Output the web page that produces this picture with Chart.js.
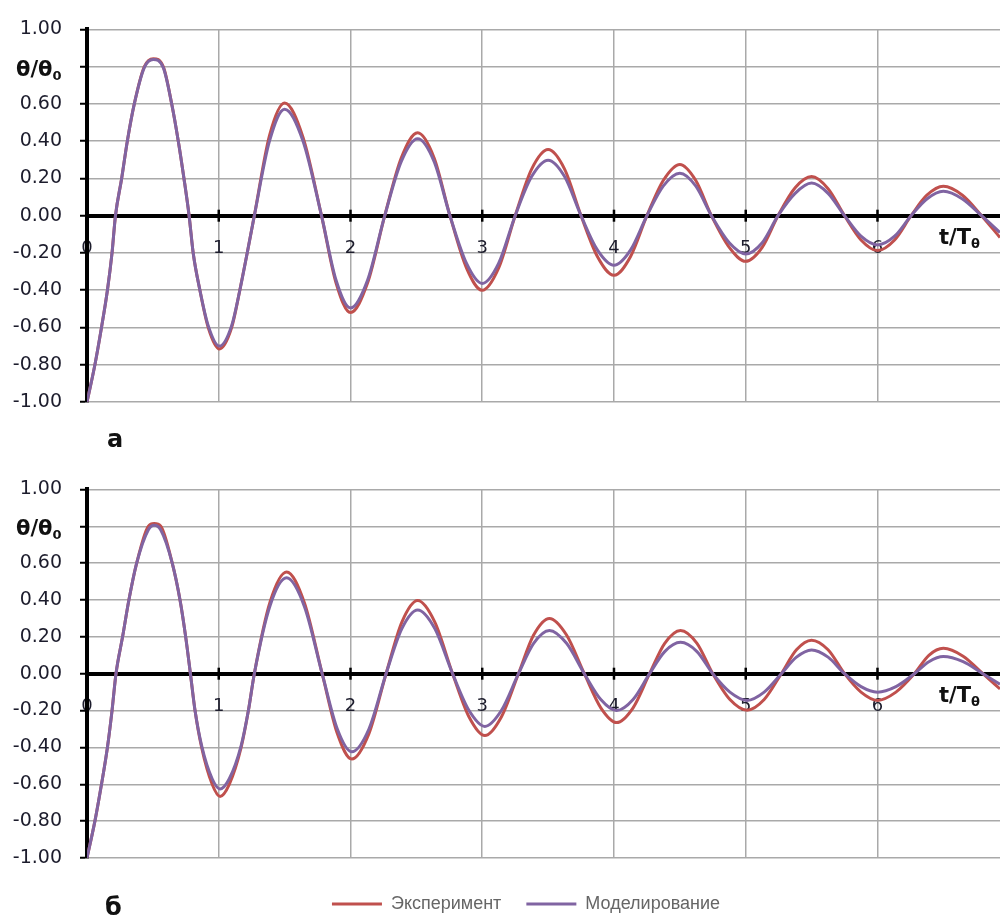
<!DOCTYPE html>
<html lang="ru">
<head>
<meta charset="utf-8">
<title>θ/θ0 — Эксперимент и Моделирование</title>
<script src="https://cdn.jsdelivr.net/npm/chart.js@4.4.1/dist/chart.umd.min.js"></script>
<style>
  html, body { margin: 0; padding: 0; background: #fff; width: 1000px; height: 917px; overflow: hidden; }
  .box { position: absolute; left: 0; width: 1000px; }
  #boxA { top: 0; height: 460px; }
  #boxB { top: 460px; height: 463px; }
</style>
</head>
<body>
<div class="box" id="boxA"><canvas id="chartA"></canvas></div>
<div class="box" id="boxB"><canvas id="chartB"></canvas></div>
<script>
const seriesNames = ["Эксперимент", "Моделирование"];

// chart "а": t/Tθ and θ/θ0
const tA = [0, 0.06, 0.11, 0.155, 0.19, 0.216, 0.263, 0.306, 0.359, 0.435,
  0.503, 0.579, 0.643, 0.693, 0.736, 0.775, 0.806, 0.857, 0.92, 1.005,
  1.098, 1.16, 1.216, 1.27, 1.385, 1.50, 1.64, 1.78, 1.89, 2.00,
  2.13, 2.26, 2.385, 2.51, 2.635, 2.755, 2.88, 3.00, 3.125, 3.25,
  3.375, 3.50, 3.625, 3.75, 3.875, 4.00, 4.125, 4.25, 4.375, 4.50,
  4.62, 4.74, 4.875, 5.00, 5.125, 5.245, 5.375, 5.50, 5.625, 5.75,
  5.875, 6.00, 6.13, 6.255, 6.375, 6.50, 6.645, 6.79, 6.93];
const expA = [-1.00, -0.80, -0.60, -0.40, -0.20, 0.00, 0.20, 0.40, 0.60, 0.80,
  0.843, 0.80, 0.60, 0.40, 0.20, 0.00, -0.20, -0.40, -0.60, -0.715,
  -0.60, -0.40, -0.20, 0.00, 0.43, 0.605, 0.42, 0.00, -0.36, -0.52,
  -0.36, 0.00, 0.31, 0.445, 0.31, 0.00, -0.28, -0.40, -0.28, 0.00,
  0.25, 0.355, 0.25, 0.00, -0.22, -0.32, -0.22, 0.00, 0.19, 0.275,
  0.19, 0.00, -0.17, -0.245, -0.17, 0.00, 0.15, 0.21, 0.145, 0.00,
  -0.13, -0.187, -0.13, 0.00, 0.11, 0.158, 0.11, 0.00, -0.117];
const modA = [-1.00, -0.80, -0.60, -0.40, -0.20, 0.00, 0.20, 0.40, 0.60, 0.795,
  0.838, 0.795, 0.60, 0.40, 0.20, 0.00, -0.20, -0.40, -0.59, -0.70,
  -0.59, -0.40, -0.20, 0.00, 0.40, 0.572, 0.40, 0.00, -0.345, -0.495,
  -0.345, 0.00, 0.29, 0.413, 0.29, 0.00, -0.255, -0.364, -0.255, 0.00,
  0.21, 0.298, 0.21, 0.00, -0.185, -0.266, -0.185, 0.00, 0.16, 0.228,
  0.16, 0.00, -0.145, -0.205, -0.145, 0.00, 0.12, 0.175, 0.12, 0.00,
  -0.11, -0.157, -0.11, 0.00, 0.09, 0.131, 0.09, 0.00, -0.09];

// chart "б"
const tB = [0, 0.06, 0.11, 0.155, 0.19, 0.22, 0.27, 0.318, 0.377, 0.465,
  0.51, 0.56, 0.647, 0.706, 0.749, 0.785, 0.82, 0.87, 0.95, 1.01,
  1.08, 1.17, 1.225, 1.27, 1.39, 1.515, 1.65, 1.785, 1.90, 2.01,
  2.14, 2.27, 2.39, 2.51, 2.64, 2.775, 2.90, 3.02, 3.145, 3.275,
  3.39, 3.51, 3.64, 3.775, 3.90, 4.02, 4.145, 4.27, 4.385, 4.505,
  4.63, 4.75, 4.88, 5.01, 5.14, 5.27, 5.385, 5.50, 5.625, 5.75,
  5.875, 6.00, 6.14, 6.28, 6.39, 6.50, 6.65, 6.80, 6.93];
const expB = [-1.00, -0.80, -0.60, -0.40, -0.20, 0.00, 0.20, 0.40, 0.60, 0.80,
  0.815, 0.80, 0.60, 0.40, 0.20, 0.00, -0.20, -0.40, -0.60, -0.666,
  -0.60, -0.40, -0.20, 0.00, 0.39, 0.552, 0.385, 0.00, -0.325, -0.463,
  -0.325, 0.00, 0.28, 0.397, 0.28, 0.00, -0.235, -0.336, -0.235, 0.00,
  0.21, 0.30, 0.21, 0.00, -0.185, -0.265, -0.185, 0.00, 0.165, 0.235,
  0.165, 0.00, -0.14, -0.198, -0.14, 0.00, 0.13, 0.182, 0.13, 0.00,
  -0.10, -0.145, -0.10, 0.00, 0.10, 0.138, 0.095, 0.00, -0.083];
const modB = [-1.00, -0.80, -0.60, -0.40, -0.20, 0.00, 0.20, 0.40, 0.60, 0.78,
  0.805, 0.78, 0.60, 0.40, 0.20, 0.00, -0.20, -0.39, -0.57, -0.625,
  -0.57, -0.39, -0.20, 0.00, 0.37, 0.52, 0.365, 0.00, -0.30, -0.424,
  -0.30, 0.00, 0.245, 0.346, 0.245, 0.00, -0.20, -0.286, -0.20, 0.00,
  0.165, 0.235, 0.165, 0.00, -0.14, -0.20, -0.14, 0.00, 0.12, 0.17,
  0.12, 0.00, -0.10, -0.145, -0.10, 0.00, 0.09, 0.129, 0.09, 0.00,
  -0.07, -0.10, -0.07, 0.00, 0.065, 0.093, 0.065, 0.00, -0.057];

const RED = "#C0504D";
const PURPLE = "#8064A2";
const GRID = "#a9a9a9";
const TXT = "#1c1c2c";

function pts(t, v) {
  return t.map((x, i) => ({ x: x, y: v[i] }));
}

// axis titles, panel letter, crossing ticks on the zero line
const decor = {
  id: "decor",
  afterLayout(chart, args, o) {
    // legend block sits a bit right of centre in the original
    if (o.legendShift && chart.legend) {
      chart.legend.left += o.legendShift;
      chart.legend.right += o.legendShift;
    }
  },
  beforeDatasetsDraw(chart) {
    const { ctx, scales: { x, y } } = chart;
    const y0 = y.getPixelForValue(0);
    ctx.save();
    ctx.strokeStyle = "#000";
    ctx.lineWidth = 2.5;
    x.ticks.forEach((tk) => {
      if (tk.value === 0) return;
      const px = x.getPixelForValue(tk.value);
      ctx.beginPath();
      ctx.moveTo(px, y0 - 6);
      ctx.lineTo(px, y0 + 6);
      ctx.stroke();
    });
    ctx.restore();
  },
  afterDraw(chart, args, o) {
    const { ctx, scales: { y } } = chart;
    ctx.save();
    ctx.fillStyle = "#111";
    ctx.textAlign = "left";
    ctx.textBaseline = "alphabetic";
    // θ/θ0
    const yb = y.getPixelForValue(0.8) + 9;
    ctx.font = 'bold 21px "DejaVu Sans"';
    ctx.fillText("θ/θ", 16, yb);
    let w = ctx.measureText("θ/θ").width;
    ctx.font = 'bold 13px "DejaVu Sans"';
    ctx.fillText("0", 16 + w, yb + 4);
    // t/Tθ
    const xb = y.getPixelForValue(0) + 28;
    ctx.font = 'bold 21px "DejaVu Sans"';
    ctx.fillText("t/T", 939, xb);
    w = ctx.measureText("t/T").width;
    ctx.font = 'bold 13px "DejaVu Sans"';
    ctx.fillText("θ", 939 + w, xb + 4);
    // panel letter
    ctx.font = 'bold 24px "DejaVu Sans"';
    ctx.fillText(o.letter, o.lx, o.ly);
    ctx.restore();
  }
};

function makeChart(id, t, exp, mod, cfg) {
  return new Chart(document.getElementById(id), {
    type: "line",
    data: {
      datasets: [
        { label: seriesNames[0], data: pts(t, exp), borderColor: RED, backgroundColor: RED, order: 1 },
        { label: seriesNames[1], data: pts(t, mod), borderColor: PURPLE, backgroundColor: PURPLE, order: 0 }
      ]
    },
    options: {
      responsive: true,
      maintainAspectRatio: false,
      animation: false,
      layout: { padding: cfg.padding },
      elements: {
        line: { borderWidth: 3, cubicInterpolationMode: "monotone", fill: false },
        point: { radius: 0 }
      },
      plugins: {
        tooltip: { enabled: false },
        legend: cfg.legend,
        decor: { letter: cfg.letter, lx: cfg.lx, ly: cfg.ly, legendShift: cfg.legendShift || 0 }
      },
      scales: {
        x: {
          type: "linear",
          min: 0,
          max: 6.93,
          position: { y: 0 },
          grid: { color: GRID, lineWidth: 1.5, drawTicks: false, z: -1 },
          border: { color: "#000", width: 4 },
          ticks: {
            stepSize: 1,
            includeBounds: false,
            autoSkip: false,
            maxRotation: 0,
            padding: 22,
            color: TXT,
            font: { family: "DejaVu Sans", size: 18 },
            callback: (v) => (Number.isInteger(v) ? String(v) : "")
          }
        },
        y: {
          min: -1,
          max: 1,
          position: "left",
          afterFit: (s) => { s.width = 87; },
          grid: { color: GRID, lineWidth: 1.5, tickColor: "#000", tickWidth: 2, tickLength: 7, z: -1 },
          border: { color: "#000", width: 4 },
          ticks: {
            stepSize: 0.2,
            padding: 18,
            color: TXT,
            font: { family: "DejaVu Sans", size: 19 },
            callback: (v) => (Math.abs(v - 0.8) < 1e-6 ? "" : v.toFixed(2))
          }
        }
      }
    },
    plugins: [decor]
  });
}

makeChart("chartA", tA, expA, modA, {
  padding: { top: 24, bottom: 58, left: 0, right: 0 },
  legend: { display: false },
  letter: "а", lx: 107, ly: 447
});

makeChart("chartB", tB, expB, modB, {
  padding: { top: 20, bottom: 0, left: 0, right: 0 },
  legendShift: 26,
  legend: {
    display: true,
    position: "bottom",
    title: { display: true, text: " ", font: { size: 10 }, padding: 0 },
    labels: {
      boxWidth: 50,
      boxHeight: 3,
      padding: 25,
      color: "#111",
      font: { family: "Liberation Sans", size: 18 },
      sort: (a, b) => a.datasetIndex - b.datasetIndex,
      generateLabels: (chart) => chart.data.datasets.map((d, i) => ({
        text: d.label,
        fillStyle: d.borderColor,
        strokeStyle: d.borderColor,
        lineWidth: 0,
        hidden: false,
        datasetIndex: i
      }))
    }
  },
  letter: "б", lx: 105, ly: 455
});
</script>
</body>
</html>
